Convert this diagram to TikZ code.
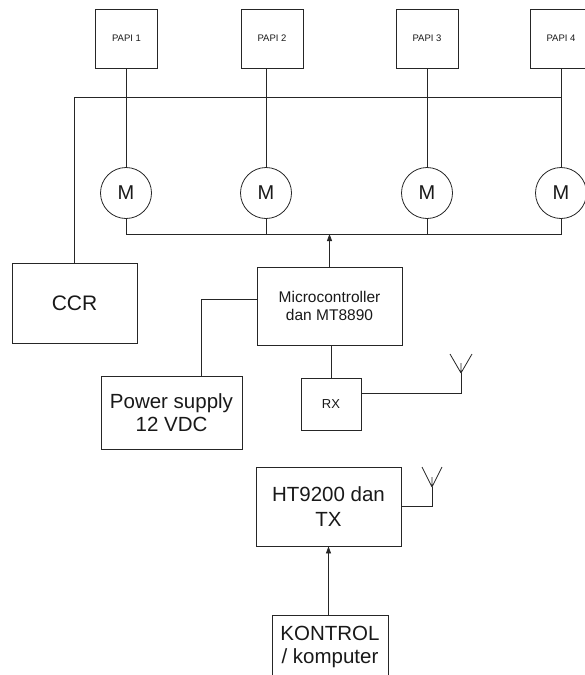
\documentclass[tikz,border=0pt]{standalone}
\usepackage{fontspec}
\setmainfont{Liberation Sans}
\usetikzlibrary{arrows.meta}
\begin{document}
\begin{tikzpicture}[x=1pt,y=-1pt,
  box/.style={draw=black!85, line width=0.8pt, rectangle, inner sep=0pt, align=center, text=black!90},
  papi/.style={box, minimum width=62pt, minimum height=59pt, font=\fontsize{9.5}{11}\selectfont},
  motor/.style={draw=black!85, line width=0.8pt, circle, minimum size=51pt, inner sep=0pt, text=black!90, font=\fontsize{20}{22}\selectfont},
  wire/.style={draw=black!85, line width=0.8pt},
  arr/.style={wire, -{Triangle[length=7pt,width=5pt]}}]
\useasboundingbox (0,0) rectangle (585,675);
\clip (0,0) rectangle (585,675);
\node[papi] (P1) at (126.5,38.5) {PAPI 1};
\node[papi] (P2) at (272,38.5) {PAPI 2};
\node[papi] (P3) at (427,38.5) {PAPI 3};
\node[papi] (P4) at (561,38.5) {PAPI 4};
\node[motor] (M1) at (126,193) {M};
\node[motor] (M2) at (266,193) {M};
\node[motor] (M3) at (427,193) {M};
\node[motor] (M4) at (561,193) {M};
\node[box, minimum width=125pt, minimum height=80pt, font=\fontsize{21}{24}\selectfont] (CCR) at (74.5,303) {CCR};
\node[box, minimum width=145pt, minimum height=78pt, font=\fontsize{15.5}{18}\selectfont] (MC) at (329.5,306) {Microcontroller\\dan MT8890};
\node[box, minimum width=141pt, minimum height=73pt, font=\fontsize{20.5}{23}\selectfont] (PS) at (171.5,412.5) {Power supply\\12 VDC};
\node[box, minimum width=60pt, minimum height=52pt, font=\fontsize{13}{15}\selectfont] (RX) at (331,404) {RX};
\node[box, minimum width=145pt, minimum height=79pt, font=\fontsize{20.5}{25}\selectfont] (HT) at (328.5,506.5) {HT9200 dan\\TX};
\node[box, minimum width=116pt, minimum height=64pt, font=\fontsize{20.5}{23}\selectfont] (K) at (330,647) {KONTROL\\/ komputer};
\coordinate (topbus) at (0,97);
\coordinate (lowbus) at (0,234);
\coordinate (pw) at (201,299);
\coordinate (rxw) at (0,393);
\coordinate (A1) at (461,373);
\coordinate (A2) at (432,487);
% top bus and CCR
\draw[wire] (CCR.north) |- (M4.north |- topbus);
% PAPI to motors
\draw[wire] (M1.north |- P1.south) -- (M1.north);
\draw[wire] (M2.north |- P2.south) -- (M2.north);
\draw[wire] (M3.north |- P3.south) -- (M3.north);
\draw[wire] (M4.north |- P4.south) -- (M4.north);
% lower bus
\draw[wire] (M1.south) |- (M4.south |- lowbus) -- (M4.south);
\draw[wire] (M2.south) -- (M2.south |- lowbus);
\draw[wire] (M3.south) -- (M3.south |- lowbus);
\draw[arr] (MC.north) -- (MC.north |- lowbus);
% power supply
\draw[wire] (MC.west |- pw) -| (pw |- PS.north);
% RX
\draw[wire] (RX.north) -- (RX.north |- MC.south);
\draw[wire] (RX.east |- rxw) -| (A1);
\draw[wire] (A1) -- ++(-11,-19) (A1) -- ++(11,-19) (A1) -- ++(0,-10);
% TX
\draw[wire] (HT.east) -| (A2);
\draw[wire] (A2) -- ++(-10,-20) (A2) -- ++(10,-20) (A2) -- ++(0,-10);
\draw[arr] (HT.south |- K.north) -- (HT.south);
\end{tikzpicture}
\end{document}
